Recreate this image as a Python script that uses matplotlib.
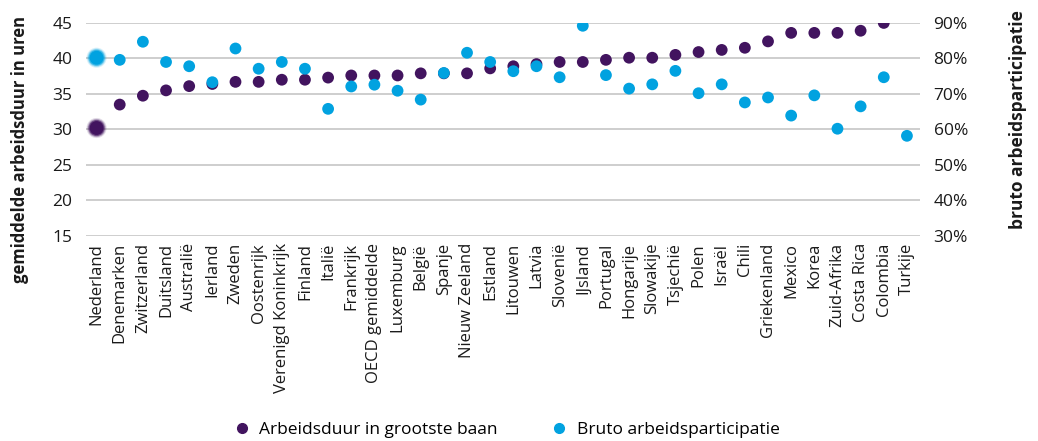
import matplotlib
matplotlib.use("Agg")
import matplotlib.pyplot as plt
from matplotlib.ticker import FuncFormatter
from matplotlib.lines import Line2D
import numpy as np

countries = ["Nederland", "Denemarken", "Zwitzerland", "Duitsland", "Australië", "Ierland",
             "Zweden", "Oostenrijk", "Verenigd Koninkrijk", "Finland", "Italië", "Frankrijk",
             "OECD gemiddelde", "Luxemburg", "België", "Spanje", "Nieuw Zeeland", "Estland",
             "Litouwen", "Latvia", "Slovenië", "IJsland", "Portugal", "Hongarije", "Slowakije",
             "Tsjechië", "Polen", "Israël", "Chili", "Griekenland", "Mexico", "Korea",
             "Zuid-Afrika", "Costa Rica", "Colombia", "Turkije"]

hours = [30.2, 33.5, 34.75, 35.5, 36.1, 36.4, 36.7, 36.7, 37.0, 37.0, 37.3, 37.6,
         37.6, 37.6, 37.9, 37.9, 37.9, 38.6, 38.9, 39.2, 39.5, 39.5, 39.8, 40.1,
         40.1, 40.5, 40.9, 41.2, 41.5, 42.4, 43.6, 43.6, 43.6, 43.9, 45.0, np.nan]

participation = [80.2, 79.6, 84.7, 79.0, 77.8, 73.3, 82.8, 77.1, 79.0, 77.1, 65.8, 72.1,
                 72.6, 70.9, 68.4, 75.9, 81.6, 79.0, 76.4, 77.8, 74.7, 89.2, 75.3, 71.5,
                 72.7, 76.5, 70.2, 72.7, 67.6, 69.0, 63.9, 69.6, 60.2, 66.5, 74.7, 58.2]

left_ticks = [15, 20, 25, 30, 35, 40, 45]
right_ticks = [30, 40, 50, 60, 70, 80, 90]

PURPLE = "#42145f"
BLUE = "#01a2e0"
FONT = ["Open Sans", "DejaVu Sans"]
plt.rcParams["font.family"] = FONT

fig = plt.figure(figsize=(10.38, 4.41), dpi=100)
ax = fig.add_axes([0.083, 0.465, 0.803, 0.483])
ax2 = ax.twinx()

x = np.arange(len(countries))
hl = np.array(hours, dtype=float)
pc = np.array(participation, dtype=float)

ax.scatter(x[1:], hl[1:], s=72, color=PURPLE, edgecolors="none", zorder=3)
ax2.scatter(x[1:], pc[1:], s=72, color=BLUE, edgecolors="none", zorder=3)

# highlighted Nederland with soft glow
for s, a in [(210, 0.15), (170, 0.3), (135, 0.6), (100, 1.0)]:
    ax.scatter(x[:1], hl[:1], s=s, color=PURPLE, alpha=a, edgecolors="none", zorder=3)
    ax2.scatter(x[:1], pc[:1], s=s, color=BLUE, alpha=a, edgecolors="none", zorder=3)

ax.set_xlim(-0.45, len(countries) - 0.45)
ax.set_ylim(15, 45)
ax.set_yticks(left_ticks)
ax2.set_ylim(30, 90)
ax2.set_yticks(right_ticks)
ax2.yaxis.set_major_formatter(FuncFormatter(lambda v, p: f"{v:.0f}%"))

ax.grid(axis="y", color="#c6c6c6", linewidth=1.2, zorder=0)
ax.set_axisbelow(True)
for a in (ax, ax2):
    for sp in a.spines.values():
        sp.set_visible(False)
    a.tick_params(length=0, labelsize=12.5, colors="#1a1a1a")

ax.set_xticks(x)
ax.set_xticklabels(countries, rotation=90, fontsize=12)
ax.tick_params(axis="x", pad=5)
ax.tick_params(axis="y", pad=10)
ax2.tick_params(axis="y", pad=10)

fig.text(20 / 1038, 1 - 150 / 441, "gemiddelde arbeidsduur in uren", rotation=90,
         ha="center", va="center", fontsize=12, fontweight="bold", color="#1a1a1a")
fig.text(1018 / 1038, 1 - 120 / 441, "bruto arbeidsparticipatie", rotation=90,
         ha="center", va="center", fontsize=12.5, fontweight="bold", color="#1a1a1a")

handles = [Line2D([], [], marker="o", linestyle="none", color=PURPLE, markersize=7),
           Line2D([], [], marker="o", linestyle="none", color=BLUE, markersize=7)]
fig.legend(handles, ["Arbeidsduur in grootste baan", "Bruto arbeidsparticipatie"],
           loc="center", bbox_to_anchor=(0.4835, 0.025), ncol=2, frameon=False,
           fontsize=12.5, handletextpad=0.0, columnspacing=2.55)

fig.savefig("out.png", dpi=100)
